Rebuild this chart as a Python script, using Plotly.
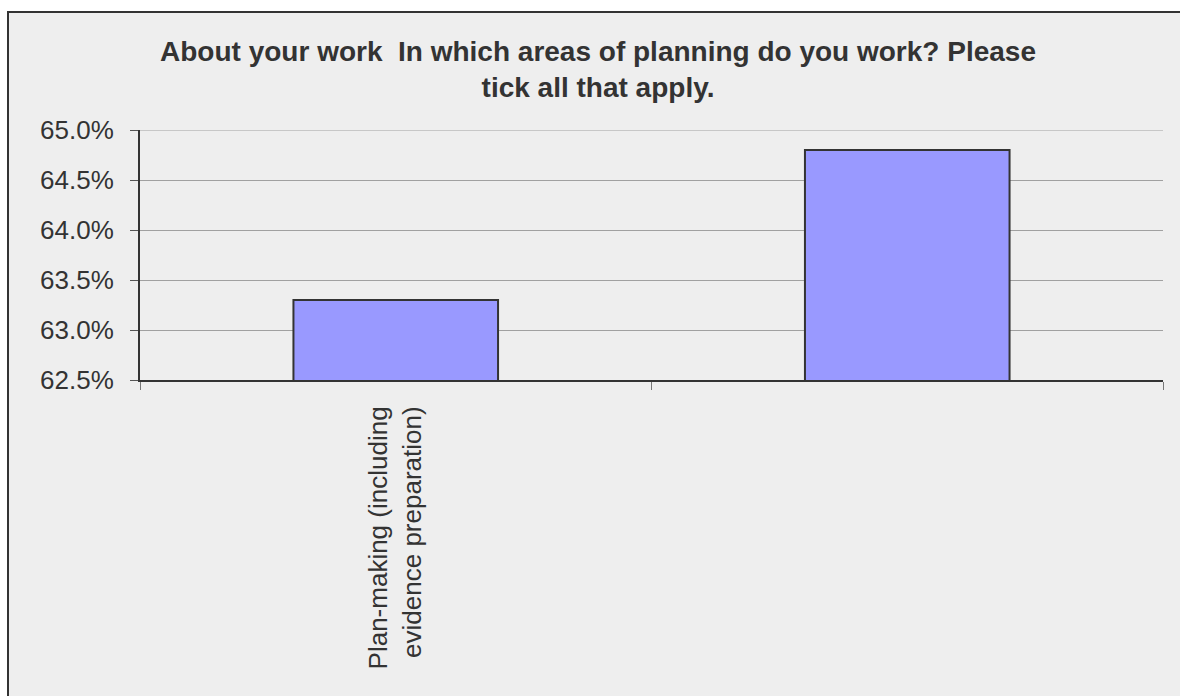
import plotly.graph_objects as go

# Survey responses: share of respondents per planning area
categories = ["Plan-making (including<br>evidence preparation)", " "]
shares = [0.633, 0.648]

y_ticks = [0.625, 0.630, 0.635, 0.640, 0.645, 0.650]

title_text = "About your work  In which areas of planning do you work? Please<br>tick all that apply."

W, H = 1180, 696
ML, MR, MT, MB = 140, 17, 130, 316
plot_w = W - ML - MR
plot_h = H - MT - MB

fig = go.Figure(
    go.Bar(
        x=categories,
        y=shares,
        marker=dict(color="#9999FF", line=dict(color="#333333", width=2)),
        width=0.4,
        hoverinfo="x+y",
    )
)

# Framed grey chart area (extends past the right and bottom page edges)
fig.add_shape(
    type="rect",
    xref="paper", yref="paper",
    x0=(8 - ML) / plot_w, x1=(W + 12 - ML) / plot_w,
    y0=(H - MB - (H + 12)) / plot_h, y1=(H - MB - 12) / plot_h,
    fillcolor="#EEEEEE",
    line=dict(color="#333333", width=2),
    layer="below",
)

# Top gridline at the upper end of the value axis
fig.add_shape(
    type="line",
    xref="paper", yref="y",
    x0=0, x1=1, y0=y_ticks[-1], y1=y_ticks[-1],
    line=dict(color="#A0A0A0", width=1),
    layer="below",
)

fig.update_layout(
    width=W, height=H,
    margin=dict(l=ML, r=MR, t=MT, b=MB),
    paper_bgcolor="white",
    plot_bgcolor="rgba(0,0,0,0)",
    showlegend=False,
    font=dict(family="Liberation Sans, Arial, sans-serif", color="#333333"),
    title=dict(
        text=title_text,
        x=598 / W, xanchor="center",
        y=1 - 61 / H, yanchor="top",
        font=dict(size=28, color="#333333", family="Liberation Sans, Arial, sans-serif", weight="bold"),
    ),
    xaxis=dict(
        type="category",
        tickson="boundaries",
        ticks="outside", ticklen=8, tickcolor="#777777", tickwidth=1,
        showgrid=False,
        showline=True, linecolor="#333333", linewidth=2,
        tickangle=-90,
        tickfont=dict(size=26, color="#333333"),
        ticklabelstandoff=14,
        range=[-0.5, 1.5],
    ),
    yaxis=dict(
        range=[0.625, 0.650],
        tickvals=y_ticks,
        tickformat=".1%",
        ticks="outside", ticklen=8, tickcolor="#555555", tickwidth=1,
        showgrid=True, gridcolor="#A0A0A0", gridwidth=1,
        showline=True, linecolor="#333333", linewidth=2,
        zeroline=False,
        tickfont=dict(size=26, color="#333333"),
        ticklabelstandoff=11,
    ),
)

fig.write_html("out.html")
